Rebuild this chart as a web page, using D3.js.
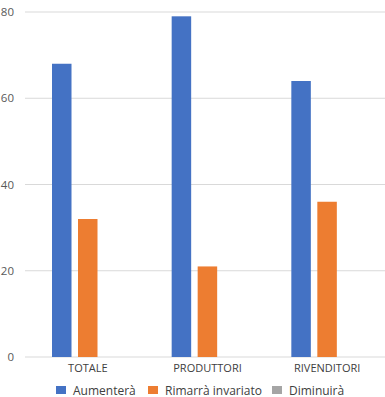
<!DOCTYPE html>
<html>
<head>
<meta charset="utf-8">
<script src="https://cdn.jsdelivr.net/npm/d3@7"></script>
<style>
  html, body { margin: 0; padding: 0; background: #fff; }
  svg { display: block; font-family: "Open Sans", "Liberation Sans", sans-serif; }
</style>
</head>
<body>
<div id="chart"></div>
<script>
// chart data
const categories = ["TOTALE", "PRODUTTORI", "RIVENDITORI"];
const seriesNames = ["Aumenterà", "Rimarrà invariato", "Diminuirà"];
const aumentera = [68, 79, 64];
const rimarra = [32, 21, 36];
const diminuira = [0, 0, 0];
const yTicks = [0, 20, 40, 60, 80];
const colors = ["#4472c4", "#ed7d31", "#a5a5a5"];

const seriesValues = [aumentera, rimarra, diminuira];

const width = 385, height = 397;

const svg = d3.select("#chart")
    .append("svg")
    .attr("width", width)
    .attr("height", height);

// Scales
const y = d3.scaleLinear()
    .domain([0, 80])
    .range([357, 12]);

const x0 = d3.scaleBand()
    .domain(categories)
    .range([28, 387]);

// bars sit in the left part of each group (third series is empty)
const x1 = d3.scaleBand()
    .domain(seriesNames)
    .range([20.75, 98.75])
    .paddingInner(0.25)
    .paddingOuter(0.125);

// Gridlines
svg.append("g")
    .selectAll("line")
    .data(yTicks)
    .enter()
    .append("line")
    .attr("x1", 25)
    .attr("x2", width)
    .attr("y1", d => y(d))
    .attr("y2", d => y(d))
    .attr("stroke", "#d9d9d9")
    .attr("stroke-width", 1);

// Y tick labels (left side is cut off in the original)
svg.append("g")
    .selectAll("text")
    .data(yTicks)
    .enter()
    .append("text")
    .attr("x", 14)
    .attr("y", d => y(d) + 4)
    .attr("text-anchor", "end")
    .style("font-size", "11.5px")
    .style("fill", "#595959")
    .text(d => d);

// Bars
const groups = svg.append("g")
    .selectAll("g")
    .data(categories)
    .enter()
    .append("g")
    .attr("transform", d => `translate(${x0(d)},0)`);

groups.selectAll("rect")
    .data((c, i) => seriesNames.map((s, j) => ({ series: s, value: seriesValues[j][i], color: colors[j] })))
    .enter()
    .append("rect")
    .attr("x", d => x1(d.series))
    .attr("width", x1.bandwidth())
    .attr("y", d => y(d.value))
    .attr("height", d => y(0) - y(d.value))
    .attr("fill", d => d.color);

// Category labels
svg.append("g")
    .selectAll("text")
    .data(categories)
    .enter()
    .append("text")
    .attr("x", d => x0(d) + x0.bandwidth() / 2)
    .attr("y", 372)
    .attr("text-anchor", "middle")
    .style("font-size", "11px")
    .style("fill", "#404040")
    .text(d => d);

// Legend
const legendX = [56, 148, 272];
const legend = svg.append("g")
    .selectAll("g")
    .data(seriesNames)
    .enter()
    .append("g")
    .attr("transform", (d, i) => `translate(${legendX[i]},386)`);

legend.append("rect")
    .attr("width", 10)
    .attr("height", 8)
    .attr("fill", (d, i) => colors[i]);

legend.append("text")
    .attr("x", 17)
    .attr("y", 8.5)
    .style("font-size", "12px")
    .style("fill", "#404040")
    .text(d => d);
</script>
</body>
</html>
